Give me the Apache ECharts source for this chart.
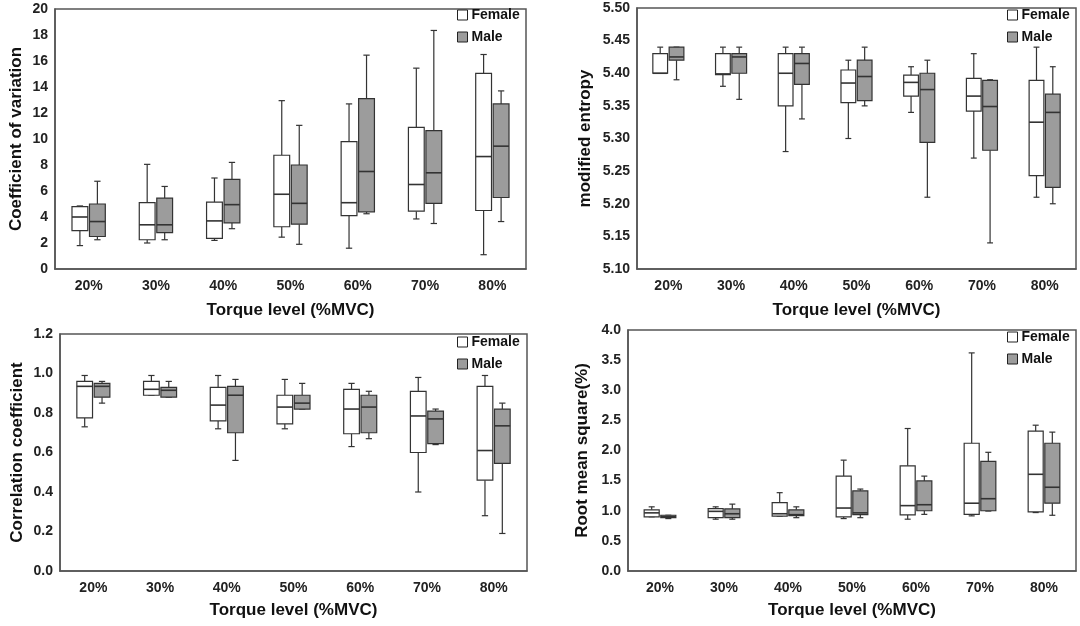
<!DOCTYPE html>
<html>
<head>
<meta charset="utf-8">
<script src="https://cdn.jsdelivr.net/npm/echarts@6/dist/echarts.min.js"></script>
<style>
  html, body { margin: 0; padding: 0; background: #fff; }
  #chart { width: 1080px; height: 626px; }
</style>
</head>
<body>
<div id="chart"></div>
<script>
// torque levels on the x axis
const levels = ['20%', '30%', '40%', '50%', '60%', '70%', '80%']

// each row: [min, q1, median, q3, max]
const cvFemale = [
  [1.8, 2.95, 4.0, 4.8, 4.85],
  [2.0, 2.25, 3.4, 5.1, 8.05],
  [2.2, 2.35, 3.7, 5.15, 7.0],
  [2.45, 3.25, 5.75, 8.75, 12.95],
  [1.6, 4.1, 5.1, 9.8, 12.7],
  [3.85, 4.45, 6.5, 10.9, 15.45],
  [1.1, 4.5, 8.65, 15.05, 16.5]
]
const cvMale = [
  [2.25, 2.5, 3.65, 5.0, 6.75],
  [2.25, 2.8, 3.4, 5.45, 6.35],
  [3.1, 3.55, 4.95, 6.9, 8.2],
  [1.9, 3.45, 5.05, 8.0, 11.05],
  [4.25, 4.4, 7.5, 13.1, 16.45],
  [3.5, 5.05, 7.4, 10.65, 18.35],
  [3.65, 5.5, 9.45, 12.7, 13.7]
]
const entFemale = [
  [5.40, 5.40, 5.40, 5.43, 5.44],
  [5.38, 5.398, 5.399, 5.43, 5.44],
  [5.28, 5.35, 5.40, 5.43, 5.44],
  [5.30, 5.355, 5.385, 5.405, 5.42],
  [5.34, 5.365, 5.386, 5.397, 5.41],
  [5.27, 5.342, 5.365, 5.392, 5.43],
  [5.21, 5.243, 5.325, 5.389, 5.44]
]
const entMale = [
  [5.39, 5.42, 5.425, 5.44, 5.44],
  [5.36, 5.40, 5.425, 5.43, 5.44],
  [5.33, 5.383, 5.415, 5.43, 5.44],
  [5.35, 5.358, 5.395, 5.42, 5.44],
  [5.21, 5.294, 5.375, 5.40, 5.42],
  [5.14, 5.282, 5.349, 5.389, 5.39],
  [5.20, 5.225, 5.34, 5.368, 5.41]
]
const corrFemale = [
  [0.73, 0.775, 0.935, 0.96, 0.99],
  [0.89, 0.89, 0.92, 0.96, 0.99],
  [0.72, 0.76, 0.84, 0.93, 0.99],
  [0.72, 0.745, 0.83, 0.89, 0.97],
  [0.63, 0.695, 0.82, 0.92, 0.95],
  [0.40, 0.60, 0.785, 0.91, 0.98],
  [0.28, 0.46, 0.61, 0.935, 0.99]
]
const corrMale = [
  [0.85, 0.88, 0.935, 0.95, 0.96],
  [0.88, 0.88, 0.915, 0.93, 0.96],
  [0.56, 0.70, 0.89, 0.935, 0.97],
  [0.82, 0.82, 0.85, 0.89, 0.95],
  [0.67, 0.70, 0.83, 0.89, 0.91],
  [0.64, 0.645, 0.77, 0.81, 0.82],
  [0.19, 0.545, 0.735, 0.82, 0.85]
]
const rmsFemale = [
  [0.90, 0.90, 0.965, 1.015, 1.065],
  [0.86, 0.885, 0.99, 1.035, 1.065],
  [0.91, 0.91, 0.95, 1.135, 1.30],
  [0.87, 0.90, 1.045, 1.575, 1.84],
  [0.86, 0.93, 1.085, 1.745, 2.365],
  [0.915, 0.94, 1.125, 2.12, 3.62],
  [0.97, 0.98, 1.605, 2.32, 2.42]
]
const rmsMale = [
  [0.87, 0.885, 0.90, 0.925, 0.925],
  [0.86, 0.885, 0.95, 1.03, 1.11],
  [0.885, 0.92, 0.935, 1.015, 1.065],
  [0.885, 0.935, 0.965, 1.33, 1.36],
  [0.94, 1.0, 1.10, 1.495, 1.575],
  [0.995, 1.0, 1.20, 1.82, 1.97],
  [0.925, 1.125, 1.39, 2.12, 2.305]
]

const FONT = '"Liberation Sans", Arial, sans-serif'
const LINE = '#333'
const MALE_FILL = '#9c9c9c'

const chart = echarts.init(document.getElementById('chart'))

// draw one box + whiskers, shifted left (-1) or right (+1) inside the category band
function boxRenderer(side, fill) {
  return function (params, api) {
    const cat = api.value(0)
    const lo = api.coord([cat, api.value(1)])
    const q1 = api.coord([cat, api.value(2)])
    const md = api.coord([cat, api.value(3)])
    const q3 = api.coord([cat, api.value(4)])
    const hi = api.coord([cat, api.value(5)])
    const band = api.size([1, 0])[0]
    const cx = lo[0] + side * band * 0.13
    const w = band * 0.235
    const cap = w * 0.2
    const ls = { stroke: LINE, lineWidth: 1.2 }
    return {
      type: 'group',
      children: [
        { type: 'line', shape: { x1: cx, y1: q3[1], x2: cx, y2: hi[1] }, style: ls },
        { type: 'line', shape: { x1: cx - cap, y1: hi[1], x2: cx + cap, y2: hi[1] }, style: ls },
        { type: 'line', shape: { x1: cx, y1: q1[1], x2: cx, y2: lo[1] }, style: ls },
        { type: 'line', shape: { x1: cx - cap, y1: lo[1], x2: cx + cap, y2: lo[1] }, style: ls },
        {
          type: 'rect',
          shape: { x: cx - w / 2, y: q3[1], width: w, height: q1[1] - q3[1] },
          style: { fill: fill, stroke: LINE, lineWidth: 1.2 }
        },
        { type: 'line', shape: { x1: cx - w / 2, y1: md[1], x2: cx + w / 2, y2: md[1] }, style: { stroke: LINE, lineWidth: 1.6 } }
      ]
    }
  }
}

const grids = [
  { left: 55, top: 9, width: 471, height: 260 },
  { left: 637, top: 8, width: 439, height: 261 },
  { left: 60, top: 334, width: 467, height: 237 },
  { left: 628, top: 330, width: 448, height: 241 }
]
const yNames = ['Coefficient of variation', 'modified entropy', 'Correlation coefficient', 'Root mean square(%)']
const yRanges = [
  { min: 0, max: 20, interval: 2, digits: 0, gap: 30 },
  { min: 5.1, max: 5.5, interval: 0.05, digits: 2, gap: 43 },
  { min: 0, max: 1.2, interval: 0.2, digits: 1, gap: 34 },
  { min: 0, max: 4, interval: 0.5, digits: 1, gap: 37 }
]
const legendPos = [
  { left: 457, top: 8 },
  { left: 1007, top: 8 },
  { left: 457, top: 335 },
  { left: 1007, top: 330 }
]
const panels = [
  [cvFemale, cvMale],
  [entFemale, entMale],
  [corrFemale, corrMale],
  [rmsFemale, rmsMale]
]

const toRows = (arr) => arr.map((v, i) => [levels[i]].concat(v))

const option = {
  backgroundColor: '#fff',
  animation: false,
  textStyle: { fontFamily: FONT },
  grid: grids.map(g => Object.assign({ show: true, borderColor: '#555', borderWidth: 1.5, backgroundColor: 'transparent' }, g)),
  legend: legendPos.map(p => ({
    left: p.left,
    top: p.top,
    orient: 'vertical',
    padding: 0,
    itemGap: 8,
    itemWidth: 10,
    itemHeight: 10,
    icon: 'rect',
    selectedMode: false,
    textStyle: { fontFamily: FONT, fontSize: 14, fontWeight: 'bold', color: '#111', padding: [0, 0, 0, -1] },
    data: [
      { name: 'Female', itemStyle: { color: '#fff', borderColor: '#222', borderWidth: 1 } },
      { name: 'Male', itemStyle: { color: MALE_FILL, borderColor: '#222', borderWidth: 1 } }
    ]
  })),
  xAxis: grids.map((g, i) => ({
    type: 'category',
    gridIndex: i,
    data: levels,
    name: 'Torque level (%MVC)',
    nameLocation: 'middle',
    nameGap: i < 2 ? 33 : 31,
    nameTextStyle: { fontFamily: FONT, fontSize: 17, fontWeight: 'bold', color: '#111' },
    axisLine: { lineStyle: { color: '#555', width: 1.5 } },
    axisTick: { show: false },
    axisLabel: { fontFamily: FONT, fontSize: 14, fontWeight: 'bold', color: '#222', margin: 10 },
    splitLine: { show: false }
  })),
  yAxis: yRanges.map((r, i) => ({
    type: 'value',
    gridIndex: i,
    min: r.min,
    max: r.max,
    interval: r.interval,
    name: yNames[i],
    nameLocation: 'middle',
    nameGap: r.gap,
    nameTextStyle: { fontFamily: FONT, fontSize: 17, fontWeight: 'bold', color: '#111' },
    axisLine: { show: true, lineStyle: { color: '#555', width: 1.5 } },
    axisTick: { show: false },
    axisLabel: {
      fontFamily: FONT, fontSize: 14, fontWeight: 'bold', color: '#222', margin: 7,
      formatter: v => v.toFixed(r.digits)
    },
    splitLine: { show: false }
  })),
  series: []
}

panels.forEach((pair, i) => {
  option.series.push({
    name: 'Female',
    type: 'custom',
    xAxisIndex: i,
    yAxisIndex: i,
    itemStyle: { color: '#fff', borderColor: LINE },
    encode: { x: 0, y: [1, 2, 3, 4, 5] },
    renderItem: boxRenderer(-1, '#fff'),
    data: toRows(pair[0])
  })
  option.series.push({
    name: 'Male',
    type: 'custom',
    xAxisIndex: i,
    yAxisIndex: i,
    itemStyle: { color: MALE_FILL, borderColor: LINE },
    encode: { x: 0, y: [1, 2, 3, 4, 5] },
    renderItem: boxRenderer(1, MALE_FILL),
    data: toRows(pair[1])
  })
})

chart.setOption(option)
window.addEventListener('resize', () => chart.resize())
</script>
</body>
</html>
